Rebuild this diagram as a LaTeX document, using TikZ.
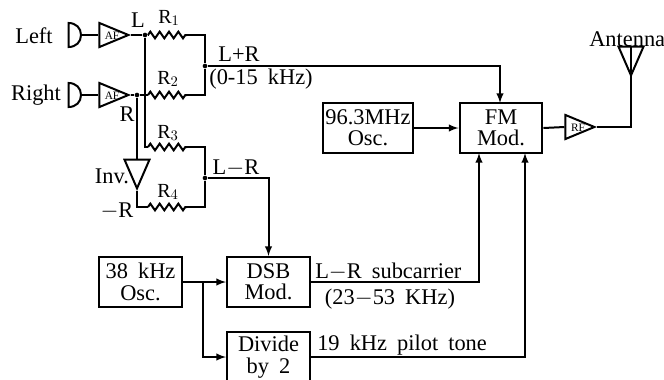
\documentclass[tikz,border=0pt]{standalone}
\usepackage{fontspec}
\setmainfont[WordSpace=1.8]{Liberation Serif}
\usetikzlibrary{shapes.geometric,decorations.pathmorphing}
\newcommand{\micN}[2]{\coordinate (#1) at (81,#2);
        \draw[wire] (68.5,#2-12) .. controls (76,#2-12) and (81,#2-7) .. (81,#2) .. controls (81,#2+7) and (76,#2+12) .. (68.5,#2+12) -- cycle;}
\newcommand{\resE}[5]{\coordinate (#1w) at (148,#2); \coordinate (#1e) at (187,#2);
        \draw[res] (#1w) -- (#1e);
        \node[lbl,font=\fontsize{15}{15}\selectfont] (#1lbl) at (#3,#4) {R$_{#5}$};}
\begin{document}
\begin{tikzpicture}
                [x=0.75pt,y=-0.75pt,
                wire/.style={line width=1.5pt,line join=miter},
                arrow/.style={wire,->,>=latex},
                res/.style={wire,decorate,decoration={zigzag,amplitude=2.5pt,segment length=7pt}},
                box/.style={rectangle,draw=black,line width=1.5pt,minimum width=62.2pt,minimum height=37.5pt,inner sep=0pt,align=center,font=\fontsize{16.8}{16}\selectfont},
                amp/.style={isosceles triangle,draw=black,line width=1.5pt,isosceles triangle stretches,inner sep=0pt,minimum width=18pt,minimum height=21.7pt,anchor=apex},
                ampdown/.style={amp,shape border rotate=270,minimum width=18.7pt,minimum height=21.5pt},
                dot/.style={circle,fill=black,inner sep=0pt,minimum size=3.5pt},
                lbl/.style={inner sep=0pt,font=\fontsize{16.8}{16}\selectfont},
                tiny/.style={inner sep=0pt,font=\fontsize{8.5}{9}\selectfont},
                ]
                \useasboundingbox (0,0) rectangle (664,379);
                % inputs
                \micN{micL}{35}
                \micN{micR}{95}
                \node[lbl] (leftlbl) at (34,36) {Left};
                \node[lbl] (rightlbl) at (36,95) {Right};
                \node[amp] (afL) at (131,35) {};
                \node[amp] (afR) at (131,95) {};
                \node[tiny] (afLlbl) at (112,36) {AF};
                \node[tiny] (afRlbl) at (112,96) {AF};
                \draw[wire] (micL) -- (afL.west);
                \draw[wire] (micR) -- (afR.west);
                \node[dot] (jL) at (145,35) {};
                \node[dot] (jR) at (137,95) {};
                \node[lbl] (llbl) at (138,20) {L};
                \node[lbl] (rlbl) at (127,114) {R};
                % resistors
                \resE{ra}{35}{169}{18}{1}
                \resE{rb}{95}{168}{79}{2}
                \resE{rc}{147}{168}{133}{3}
                \resE{rd}{207}{168}{192}{4}
                \node[dot] (jSum) at (205,66) {};
                \node[dot] (jDif) at (205,178) {};
                \node[ampdown] (inv) at (137,191) {};
                \node[lbl] (invlbl) at (112,176) {Inv.};
                \node[lbl] (mrlbl) at (117,211) {$-$R};
                \draw[wire] (afL.apex) -- (jL) -- (raw);
                \draw[wire] (afR.apex) -- (jR) -- (rbw);
                \draw[wire] (jL) |- (rcw);
                \draw[wire] (jR) -- (inv.north);
                \draw[wire] (inv.apex) |- (rdw);
                \draw[wire] (rae) -| (jSum) |- (rbe);
                \draw[wire] (rce) -| (jDif) |- (rde);
                \node[lbl] (sumlbl) at (239,54) {L+R};
                \node[lbl] (sumband) at (261,79) {(0-15 kHz)};
                \node[lbl] (diflbl) at (236,168) {L$-$R};
                % blocks
                \node[box,minimum width=67.5pt] (osc) at (368,128) {96.3MHz\\Osc.};
                \node[box] (fm) at (501,128) {FM\\Mod.};
                \node[box] (subosc) at (140.5,282) {38 kHz\\Osc.};
                \node[box] (dsb) at (268.5,282) {DSB\\Mod.};
                \node[box] (div) at (268.5,357) {Divide\\by 2};
                \node[amp] (rf) at (597,127) {};
                \node[tiny] (rflbl) at (578,128) {RF};
                \node[ampdown] (ant) at (631,78) {};
                \node[lbl,anchor=west] (antlbl) at (589,39) {Antenna};
                \coordinate (fmin) at (500,103);
                \node[lbl,anchor=west] (subcar) at (315,272) {L$-$R subcarrier};
                \node[lbl] (subband) at (390,299) {(23$-$53 KHz)};
                \node[lbl,anchor=west] (pilot) at (317,345) {19 kHz pilot tone};
                % connectors
                \draw[arrow] (jSum) -| (fmin);
                \draw[arrow] (jDif) -| (dsb.north);
                \draw[arrow] (osc.east) -- (fm.west);
                \draw[wire] (fm.east) -- (rf.west);
                \draw[wire] (rf.apex) -| (ant.apex);
                \draw[wire] (ant.apex) -- (ant.north);
                \draw[arrow] (subosc.east) -- (dsb.west);
                \coordinate (oscsplit) at (203,282);
                \draw[arrow] (oscsplit) |- (div.west);
                \coordinate (fmsub) at (479,153);
                \coordinate (fmpil) at (525,153);
                \draw[arrow] (dsb.east) -| (fmsub);
                \draw[arrow] (div.east) -| (fmpil);
            \end{tikzpicture}
\end{document}
